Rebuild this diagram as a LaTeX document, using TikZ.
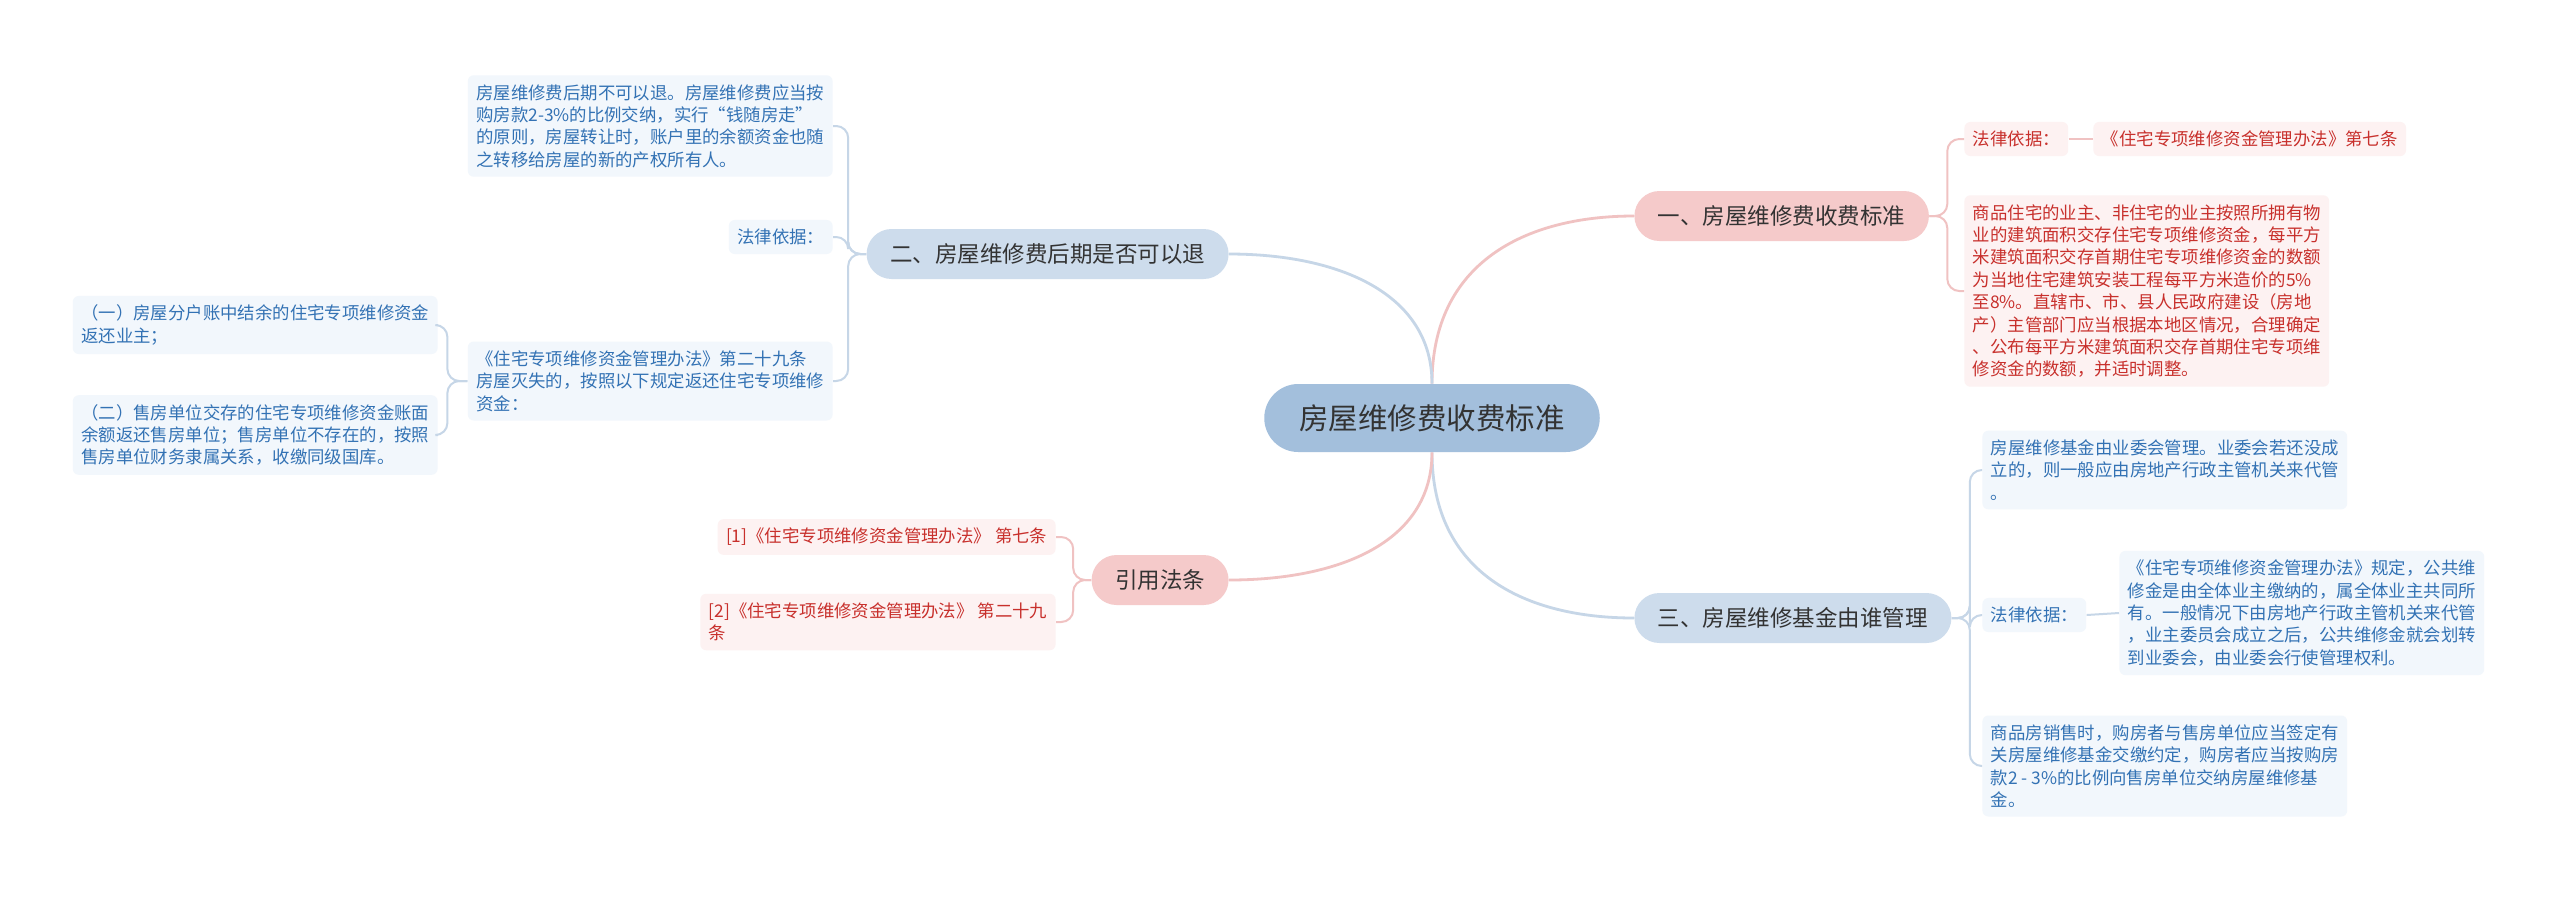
\documentclass[tikz,border=0pt]{standalone}
\usepackage{fontspec}
\newfontfamily\cjk{Noto Sans CJK SC}
\definecolor{rootfill}{HTML}{A3BFDC}
\definecolor{pinkfill}{HTML}{F5CACA}
\definecolor{bluefill}{HTML}{CDDCEC}
\definecolor{pinkleaf}{HTML}{FDF2F2}
\definecolor{blueleaf}{HTML}{F2F7FC}
\definecolor{redtext}{HTML}{C8302C}
\definecolor{bluetext}{HTML}{3372B4}
\definecolor{darktext}{HTML}{333333}
\definecolor{pinkline}{HTML}{F0C2C2}
\definecolor{blueline}{HTML}{C6D6E7}
\begin{document}
\begin{tikzpicture}[
  rootbox/.style={fill=rootfill,text=darktext,rounded corners=17pt,minimum height=34pt,inner xsep=17.5pt,font=\cjk\fontsize{14.75}{17}\selectfont},
  topicred/.style={fill=pinkfill,text=darktext,rounded corners=12.5pt,minimum height=25pt,inner xsep=11.75pt,font=\cjk\fontsize{11.25}{13}\selectfont},
  topicblue/.style={topicred,fill=bluefill},
  leafred/.style={fill=pinkleaf,text=redtext,rounded corners=3pt,align=left,inner xsep=4.2pt,inner ysep=4.5pt,font=\cjk\fontsize{8.7}{11.2}\selectfont},
  leafblue/.style={leafred,fill=blueleaf,text=bluetext},
  mainred/.style={draw=pinkline,line width=1.4pt},
  mainblue/.style={draw=blueline,line width=1.4pt},
  linkred/.style={draw=pinkline,line width=1pt,rounded corners=6pt},
  linkblue/.style={draw=blueline,line width=1pt,rounded corners=6pt}]
\begin{scope}[x=0.5pt,y=-0.5pt]
\fill[white] (0,0) rectangle (2560,896);
\useasboundingbox (0,0) rectangle (2560,896);

% root and topics
\node[rootbox] (root) at (1432,418) {房屋维修费收费标准};
\node[topicred,anchor=west] (one) at (1634,216) {一、房屋维修费收费标准};
\node[topicblue,anchor=west] (three) at (1634,618) {三、房屋维修基金由谁管理};
\node[topicblue,anchor=east] (two) at (1229,254) {二、房屋维修费后期是否可以退};
\node[topicred,anchor=east] (cite) at (1229,580) {引用法条};

\draw[mainred] (root.north) .. controls +(0,-120) and +(-110,0) .. (one.west);
\draw[mainblue] (root.north) .. controls +(0,-90) and +(110,0) .. (two.east);
\draw[mainblue] (root.south) .. controls +(0,120) and +(-110,0) .. (three.west);
\draw[mainred] (root.south) .. controls +(0,90) and +(110,0) .. (cite.east);

% one
\node[leafred,anchor=west] (oneA) at (1964,139) {法律依据：};
\node[leafred,anchor=west] (oneA1) at (2093,139) {《住宅专项维修资金管理办法》第七条};
\node[leafred,anchor=west] (oneB) at (1964,291) {商品住宅的业主、非住宅的业主按照所拥有物\\业的建筑面积交存住宅专项维修资金，每平方\\米建筑面积交存首期住宅专项维修资金的数额\\为当地住宅建筑安装工程每平方米造价的5\%\\至8\%。直辖市、市、县人民政府建设（房地\\产）主管部门应当根据本地区情况，合理确定\\、公布每平方米建筑面积交存首期住宅专项维\\修资金的数额，并适时调整。};
\draw[linkred] (one.east) -- ++(18,0) |- (oneA.west);
\draw[linkred] (one.east) -- ++(18,0) |- (oneB.west);
\draw[linkred] (oneA.east) -- (oneA1.west);

% three
\node[leafblue,anchor=west] (threeA) at (1982,470) {房屋维修基金由业委会管理。业委会若还没成\\立的，则一般应由房地产行政主管机关来代管\\。};
\node[leafblue,anchor=west] (threeB) at (1982,615) {法律依据：};
\node[leafblue,anchor=west] (threeB1) at (2119,613) {《住宅专项维修资金管理办法》规定，公共维\\修金是由全体业主缴纳的，属全体业主共同所\\有。一般情况下由房地产行政主管机关来代管\\，业主委员会成立之后，公共维修金就会划转\\到业委会，由业委会行使管理权利。};
\node[leafblue,anchor=west] (threeC) at (1982,766) {商品房销售时，购房者与售房单位应当签定有\\关房屋维修基金交缴约定，购房者应当按购房\\款2 - 3\%的比例向售房单位交纳房屋维修基\\金。};
\draw[linkblue] (three.east) -- ++(18,0) |- (threeA.west);
\draw[linkblue] (three.east) -- ++(18,0) |- (threeB.west);
\draw[linkblue] (three.east) -- ++(18,0) |- (threeC.west);
\draw[linkblue] (threeB.east) -- (threeB1.west);

% two
\node[leafblue,anchor=east] (twoA) at (833,126) {房屋维修费后期不可以退。房屋维修费应当按\\购房款2-3\%的比例交纳，实行“钱随房走”\\的原则，房屋转让时，账户里的余额资金也随\\之转移给房屋的新的产权所有人。};
\node[leafblue,anchor=east] (twoB) at (833,237) {法律依据：};
\node[leafblue,anchor=east] (twoC) at (833,381) {《住宅专项维修资金管理办法》第二十九条\\房屋灭失的，按照以下规定返还住宅专项维修\\资金：};
\node[leafblue,anchor=east] (twoC1) at (438,325) {（一）房屋分户账中结余的住宅专项维修资金\\返还业主；};
\node[leafblue,anchor=east] (twoC2) at (438,435) {（二）售房单位交存的住宅专项维修资金账面\\余额返还售房单位；售房单位不存在的，按照\\售房单位财务隶属关系，收缴同级国库。};
\draw[linkblue] (two.west) -- ++(-18,0) |- (twoA.east);
\draw[linkblue] (two.west) -- ++(-18,0) |- (twoB.east);
\draw[linkblue] (two.west) -- ++(-18,0) |- (twoC.east);
\draw[linkblue] (twoC.west) -- ++(-20,0) |- (twoC1.east);
\draw[linkblue] (twoC.west) -- ++(-20,0) |- (twoC2.east);

% cite
\node[leafred,anchor=east] (citeA) at (1056,537) {[1]《住宅专项维修资金管理办法》 第七条};
\node[leafred,anchor=east] (citeB) at (1056,622) {[2]《住宅专项维修资金管理办法》 第二十九\\条};
\draw[linkred] (cite.west) -- ++(-18,0) |- (citeA.east);
\draw[linkred] (cite.west) -- ++(-18,0) |- (citeB.east);

\end{scope}
\end{tikzpicture}
\end{document}
